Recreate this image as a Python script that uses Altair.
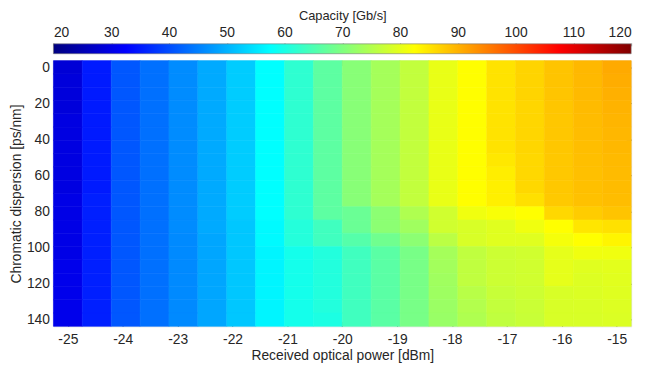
import altair as alt
import pandas as pd

# Received optical power grid [dBm] (20 points)
power = [-25.0, -24.474, -23.947, -23.421, -22.895, -22.368, -21.842, -21.316,
         -20.789, -20.263, -19.737, -19.211, -18.684, -18.158, -17.632, -17.105,
         -16.579, -16.053, -15.526, -15.0]
# Chromatic dispersion grid [ps/nm] (20 points)
dispersion = [0.0, 7.368, 14.737, 22.105, 29.474, 36.842, 44.211, 51.579, 58.947,
              66.316, 73.684, 81.053, 88.421, 95.789, 103.158, 110.526, 117.895,
              125.263, 132.632, 140.0]

# Capacity [Gb/s], one list per power column, ordered by dispersion (top to bottom)
cap_by_power = [
    [28.5, 29, 29, 29, 29.5, 29.5, 29.5, 29.5, 29.5, 29.5, 30, 30, 30, 30, 30, 30.5, 30.5, 30.5, 30.5, 30.5],
    [35, 35, 35, 35, 35, 35, 35, 35, 35, 35, 35.5, 35.5, 35.5, 35.5, 35.5, 35.5, 35.5, 35.5, 35.5, 35.5],
    [41, 41, 41, 41, 41, 41, 41, 41, 41, 41, 41, 41, 41, 41, 41, 41, 41, 41, 41, 41],
    [43.5, 43.5, 43.5, 43.5, 43.5, 43.5, 43.5, 43.5, 43.5, 43.5, 43.5, 43.5, 43.5, 43.5, 43.5, 43.5, 43.5, 43.5, 43.5, 43.5],
    [46.2, 46.2, 46.2, 46.2, 46.2, 46.2, 46.2, 46.2, 46.2, 46.2, 46.2, 46.2, 46.2, 46, 46, 46, 46, 46, 46, 46],
    [49.2, 49.2, 49.2, 49.2, 49.2, 49.2, 49.2, 49.2, 49.2, 49.2, 49.2, 49.2, 49.2, 48.8, 48.8, 48.8, 48.8, 48.8, 48.8, 48.8],
    [52.5, 52.5, 52.5, 52.5, 52.5, 52.5, 52.5, 52.5, 52.5, 52.5, 52.5, 52.5, 52, 52, 52, 52, 52, 52, 52, 52],
    [57.5, 57.5, 57.5, 57.5, 57.5, 57.5, 57.5, 57.5, 57.5, 57.5, 57.5, 57.5, 57, 57, 56.5, 56.5, 56.5, 56.5, 56.5, 56.5],
    [62, 62, 62, 62, 62, 62, 62, 62, 62, 62, 62, 62, 61, 61, 59.5, 59.5, 59.5, 59.5, 59.5, 59.5],
    [66.6, 66.6, 66.6, 66.6, 66.6, 66.6, 66.6, 66.6, 66.6, 66.6, 66.6, 66.6, 63.8, 63.8, 60.8, 60.8, 60.8, 60.8, 60.8, 60.2],
    [70.8, 70.8, 70.8, 70.8, 70.8, 70.8, 70.8, 70.8, 70.8, 70.8, 70.8, 67.9, 67.9, 65.8, 63.8, 63.8, 63.8, 63.8, 63.8, 63.8],
    [73.7, 73.7, 73.7, 73.7, 73.7, 73.7, 73.7, 73.7, 73.7, 73.7, 73.7, 71.2, 71.2, 68.5, 66.3, 66.3, 66.3, 66.3, 66.3, 66.3],
    [76.5, 76.5, 76.5, 76.5, 76.5, 76.5, 76.5, 76.5, 76.5, 76.5, 76.5, 74.7, 73.2, 71.2, 69.3, 69.3, 69.3, 69.3, 69.3, 69.3],
    [80.3, 80.3, 80.3, 80.3, 80.3, 80.3, 80.3, 80.3, 80.3, 80.3, 80.3, 77.9, 77.9, 75.8, 73.7, 73.5, 73.2, 73, 72.7, 72.5],
    [82.6, 82.6, 82.6, 82.6, 82.6, 82.6, 82.6, 82.6, 82.6, 82.6, 82.6, 81, 78.7, 78.7, 76.3, 76.3, 76.3, 75.5, 75, 74.7],
    [85.2, 85.2, 85.2, 85.2, 85.2, 85.2, 85.2, 84.8, 84.2, 84, 84, 81.8, 79.5, 79.5, 77.5, 77.5, 77.5, 77, 76.6, 76.3],
    [86.7, 86.7, 86.7, 86.5, 86.5, 86.5, 86.5, 86.3, 86.3, 86.3, 85.5, 82.5, 81, 79.5, 77.9, 77.9, 77.9, 77.6, 77.3, 77.1],
    [88.3, 88.3, 88.2, 88.1, 88, 88, 88, 87.9, 87.9, 87.9, 87.8, 86.3, 82.5, 81.5, 80, 80, 80, 78.7, 78.7, 78.7],
    [89.5, 89.4, 89.3, 89.2, 89.1, 89, 88.9, 88.8, 88.7, 88.7, 88.6, 87.5, 85, 82.5, 81, 79.5, 79.2, 79, 78.8, 78.7],
    [90.8, 90.5, 90.2, 90, 89.8, 89.6, 89.5, 89.3, 89.2, 89.1, 89, 88.3, 85.4, 83.5, 81, 79.8, 79.6, 79.4, 79.2, 79],
]

x_ticks = [-25, -24, -23, -22, -21, -20, -19, -18, -17, -16, -15]
y_ticks = [0, 20, 40, 60, 80, 100, 120, 140]
cbar_ticks = [20, 30, 40, 50, 60, 70, 80, 90, 100, 110, 120]

# jet colormap anchors over 20..120
jet_domain = [20, 32.5, 57.5, 82.5, 107.5, 120]
jet_range = ["#000080", "#0000ff", "#00ffff", "#ffff00", "#ff0000", "#800000"]

hx = (power[1] - power[0]) / 2
hy = (dispersion[1] - dispersion[0]) / 2
rows = []
for i, p in enumerate(power):
    for j, d in enumerate(dispersion):
        rows.append({"x0": p - hx, "x1": p + hx, "y0": d - hy, "y1": d + hy,
                     "power": p, "cd": d, "cap": cap_by_power[i][j]})
df = pd.DataFrame(rows)
cbar_df = pd.DataFrame({"lo": [cbar_ticks[0]], "hi": [cbar_ticks[-1]]})

xs = alt.Scale(domain=[power[0] - hx, power[-1] + hx], nice=False, zero=False)
ys = alt.Scale(domain=[dispersion[0] - hy, dispersion[-1] + hy], nice=False, zero=False, reverse=True)
cs = alt.Scale(domain=jet_domain, range=jet_range, interpolate="rgb")
cbs = alt.Scale(domain=[cbar_ticks[0], cbar_ticks[-1]], nice=False, zero=False)

FONT = "Liberation Sans"
TXT = "#262626"

txt_style = dict(labelFontSize=14, titleFontWeight="normal",
                 labelColor=TXT, titleColor=TXT, labelFont=FONT, titleFont=FONT)
common_axis = dict(tickSize=5, offset=-5, domain=False, grid=False, tickColor="#555555",
                   tickWidth=0.8, titleFontSize=14, **txt_style)

x_bottom = alt.Axis(orient="bottom", values=x_ticks, labelExpr="'' + datum.value",
                    title="Received optical power [dBm]", labelPadding=6, titlePadding=3,
                    **common_axis)
y_left = alt.Axis(orient="left", values=y_ticks, labelExpr="'' + datum.value",
                  title="Chromatic dispersion [ps/nm]", labelPadding=4, titlePadding=3,
                  **common_axis)
x_top = alt.Axis(orient="top", values=x_ticks, labels=False, title=None, **common_axis)
y_right = alt.Axis(orient="right", values=y_ticks, labels=False, title=None, **common_axis)
cbar_axis = alt.Axis(orient="top", values=cbar_ticks, labelExpr="'' + datum.value",
                     title="Capacity [Gb/s]", titleFontSize=13, titleY=-24,
                     offset=15, tickSize=3, tickColor="#555555",
                     tickWidth=0.6, domain=False, grid=False, labelPadding=3,
                     **txt_style)

jet_gradient = alt.Gradient(
    gradient="linear", x1=0, x2=1, y1=0, y2=0,
    stops=[alt.GradientStop(offset=(v - jet_domain[0]) / (jet_domain[-1] - jet_domain[0]), color=c)
           for v, c in zip(jet_domain, jet_range)],
)

heat = alt.Chart(df).mark_rect(strokeWidth=0.6).encode(
    x=alt.X("x0:Q", scale=xs, axis=x_bottom),
    x2="x1:Q",
    y=alt.Y("y0:Q", scale=ys, axis=y_left),
    y2="y1:Q",
    color=alt.Color("cap:Q", scale=cs, legend=None),
    stroke=alt.Stroke("cap:Q", scale=cs, legend=None),
)

frame = alt.Chart(df).mark_rect(opacity=0).encode(
    x=alt.X("x0:Q", scale=xs, axis=x_top),
    x2="x1:Q",
    y=alt.Y("y0:Q", scale=ys, axis=y_right),
    y2="y1:Q",
)

cbar = alt.Chart(cbar_df).mark_rect(color=jet_gradient, stroke="#777777", strokeWidth=0.6).encode(
    x=alt.X("lo:Q", scale=cbs, axis=cbar_axis),
    x2="hi:Q",
    y=alt.value(-17),
    y2=alt.value(-7),
)

chart = alt.layer(heat, frame, cbar).resolve_scale(x="independent").properties(
    width=585, height=269,
    autosize=alt.AutoSizeParams(type="none"),
    padding={"left": 46, "top": 51, "right": 13, "bottom": 45},
).configure_view(stroke="#aaaaaa", strokeWidth=1).configure(background="white")

chart.save("out.html", embed_options={"renderer": "svg", "actions": False})
